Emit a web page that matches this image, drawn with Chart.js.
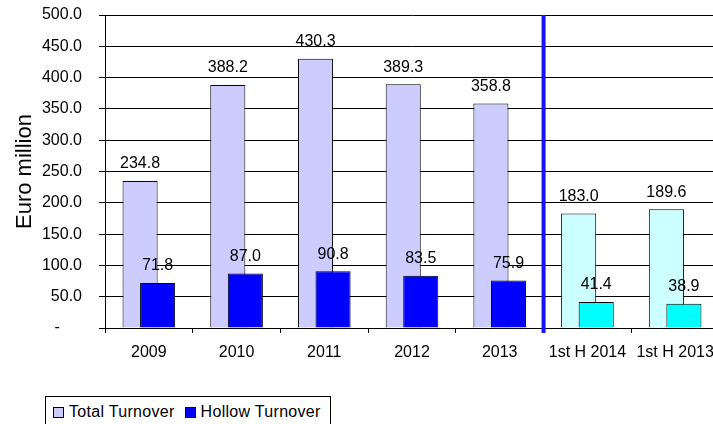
<!DOCTYPE html>
<html>
<head>
<meta charset="utf-8">
<script src="https://cdn.jsdelivr.net/npm/chart.js@4"></script>
<style>
html, body { margin: 0; padding: 0; background: #fff; overflow: hidden; }
#wrap { position: relative; width: 720px; height: 424px; }
#legend {
  position: absolute; left: 45px; top: 396px; width: 286px; height: 34px;
  border: 1px solid #000; box-sizing: border-box; background: #fff;
  font: 16px "Liberation Sans", Arial, sans-serif; color: #000; letter-spacing: 0.3px;
  display: flex; align-items: flex-start; padding: 6px 0 0 7px;
}
.item { display: flex; align-items: center; white-space: nowrap; margin-right: 10px; }
.sw { width: 9px; height: 9px; border: 1px solid #000; margin-right: 5px; }
</style>
</head>
<body>
<div id="wrap">
  <canvas id="c" width="720" height="424"></canvas>
  <div id="legend"></div>
</div>
<script>
const categories = ['2009', '2010', '2011', '2012', '2013', '1st H 2014', '1st H 2013'];
const totalTurnover = [234.8, 388.2, 430.3, 389.3, 358.8, 183.0, 189.6];
const hollowTurnover = [71.8, 87.0, 90.8, 83.5, 75.9, 41.4, 38.9];
const annualCount = 5; // first five categories are full years, the rest are half years
const seriesNames = ['Total Turnover', 'Hollow Turnover'];

const FONT = '"Liberation Sans", Arial, sans-serif';

const totalColors = categories.map((_, i) => i < annualCount ? '#CCCCFF' : '#CCFFFF');
const hollowColors = categories.map((_, i) => i < annualCount ? '#0000FF' : '#00FFFF');

const overlayPlugin = {
  id: 'overlay',
  beforeDatasetDraw(chart, args) {
    // hollow bars are drawn later so they sit on top of the total bars
    if (args.index === 1) return false;
  },
  afterDatasetsDraw(chart) {
    const ctx = chart.ctx;
    const area = chart.chartArea;
    ctx.save();
    chart.getDatasetMeta(1).controller.draw();
    ctx.restore();

    const xs = chart.scales.x;
    const sepX = (xs.getPixelForValue(annualCount - 1) + xs.getPixelForValue(annualCount)) / 2;
    ctx.save();
    ctx.strokeStyle = '#1414FF';
    ctx.lineWidth = 4;
    ctx.beginPath();
    ctx.moveTo(sepX, area.top);
    ctx.lineTo(sepX, area.bottom + 5);
    ctx.stroke();
    ctx.restore();

    ctx.save();
    ctx.font = '16px ' + FONT;
    ctx.fillStyle = '#000';
    ctx.textAlign = 'center';
    ctx.textBaseline = 'middle';
    [0, 1].forEach(di => {
      const vals = chart.data.datasets[di].data;
      chart.getDatasetMeta(di).data.forEach((bar, i) => {
        ctx.fillText(vals[i].toFixed(1), bar.x, bar.y - 17);
      });
    });
    ctx.restore();
  }
};

const chart = new Chart(document.getElementById('c'), {
  type: 'bar',
  data: {
    labels: categories,
    datasets: [
      {
        label: seriesNames[0],
        data: totalTurnover,
        backgroundColor: totalColors,
        borderColor: '#000',
        borderWidth: 1,
        categoryPercentage: 0.4,
        barPercentage: 2.0
      },
      {
        label: seriesNames[1],
        data: hollowTurnover,
        backgroundColor: hollowColors,
        borderColor: '#000',
        borderWidth: 1,
        categoryPercentage: 0.4,
        barPercentage: 2.0
      }
    ]
  },
  options: {
    responsive: false,
    animation: false,
    devicePixelRatio: 1,
    layout: { padding: { top: 15, right: 1, left: 0, bottom: 0 } },
    plugins: {
      legend: { display: false },
      tooltip: { enabled: false }
    },
    scales: {
      x: {
        type: 'category',
        offset: true,
        grid: { offset: true, drawOnChartArea: false, drawTicks: true, tickLength: 5, color: '#000' },
        border: { display: true, color: '#000', width: 1 },
        ticks: { font: { family: FONT, size: 16 }, color: '#000', padding: 10, maxRotation: 0, autoSkip: false },
        afterFit(axis) { axis.height = 96; axis.paddingLeft = 0; axis.paddingRight = 0; }
      },
      y: {
        min: 0,
        max: 500,
        ticks: {
          stepSize: 50,
          font: { family: FONT, size: 16 },
          color: '#000',
          padding: 17,
          callback: v => v === 0 ? '-     ' : Number(v).toFixed(1)
        },
        grid: { color: '#000', tickLength: 6, lineWidth: 1 },
        border: { display: true, color: '#000', width: 1 },
        title: {
          display: true,
          text: 'Euro million',
          font: { family: FONT, size: 22 },
          color: '#000',
          padding: { top: 12, bottom: 0 }
        },
        afterFit(axis) { axis.width = 105; axis.paddingTop = 0; axis.paddingBottom = 0; }
      }
    }
  },
  plugins: [overlayPlugin]
});

// HTML legend built from the chart's datasets
const legendEl = document.getElementById('legend');
chart.data.datasets.forEach(ds => {
  const item = document.createElement('div');
  item.className = 'item';
  const sw = document.createElement('span');
  sw.className = 'sw';
  sw.style.background = ds.backgroundColor[0];
  const tx = document.createElement('span');
  tx.textContent = ds.label;
  item.appendChild(sw);
  item.appendChild(tx);
  legendEl.appendChild(item);
});
</script>
</body>
</html>
